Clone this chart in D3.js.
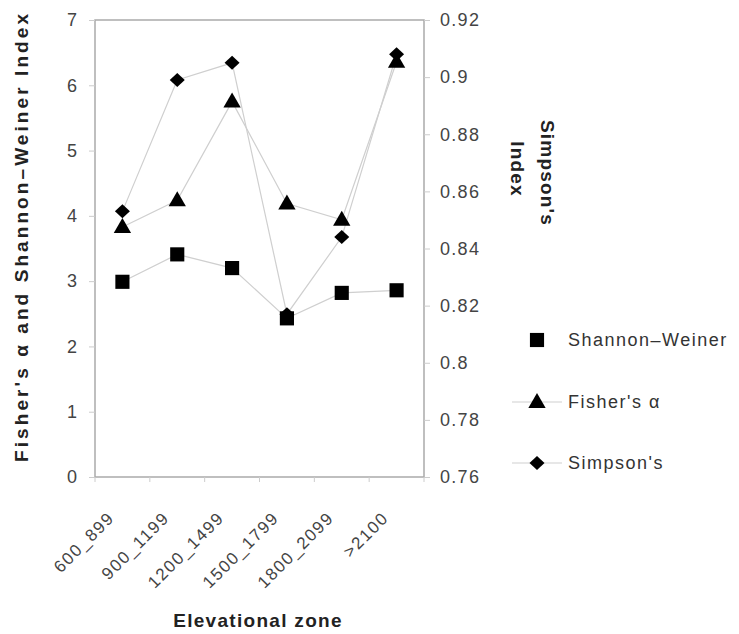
<!DOCTYPE html>
<html><head><meta charset="utf-8">
<script src="https://cdn.jsdelivr.net/npm/d3@7"></script>
<style>body{margin:0;background:#fff}svg{display:block}</style>
</head><body>
<svg id="c" width="739" height="634"></svg>
<script>
const zones = ["600_899","900_1199","1200_1499","1500_1799","1800_2099",">2100"];
const shannon = [2.99, 3.41, 3.20, 2.43, 2.82, 2.86];
const fisher  = [3.83, 4.24, 5.75, 4.19, 3.94, 6.36];
const simpson = [0.853, 0.899, 0.905, 0.817, 0.844, 0.908];
const leftTicks = [0,1,2,3,4,5,6,7];
const rightTicks = [0.76,0.78,0.8,0.82,0.84,0.86,0.88,0.9,0.92];

const svg = d3.select("#c");
const L = 95, R = 424, T = 20, B = 477;
const font = "Liberation Sans, Arial, sans-serif";
const x = d3.scaleBand().domain(zones).range([L, R]).padding(0);
const yL = d3.scaleLinear().domain([0,7]).range([B, T]);
const yR = d3.scaleLinear().domain([0.76,0.92]).range([B, T]);

svg.append("rect").attr("x",L).attr("y",T).attr("width",R-L).attr("height",B-T)
  .attr("fill","#fff").attr("stroke","#aaa").attr("stroke-width",1.5);

const ax = svg.append("g").attr("transform",`translate(${L},0)`)
  .call(d3.axisLeft(yL).tickValues(leftTicks).tickSize(6).tickPadding(12).tickFormat(d3.format("d")));
ax.select(".domain").remove();
ax.selectAll("line").attr("stroke","#ccc");
ax.selectAll("text").attr("font-family",font).attr("font-size",18).attr("fill","#444");

const ar = svg.append("g").attr("transform",`translate(${R},0)`)
  .call(d3.axisRight(yR).tickValues(rightTicks).tickSize(6).tickPadding(10).tickFormat(d => String(+d.toFixed(2))));
ar.select(".domain").remove();
ar.selectAll("line").attr("stroke","#ccc");
ar.selectAll("text").attr("font-family",font).attr("font-size",18).attr("fill","#444").attr("letter-spacing",1.3);

const bnd = zones.map(z => x(z)).concat([R]);
svg.append("g").selectAll("line").data(bnd).join("line")
  .attr("x1",d=>d).attr("x2",d=>d).attr("y1",B).attr("y2",B+5).attr("stroke","#ccc");

svg.append("g").selectAll("text").data(zones).join("text")
  .attr("transform", d => `translate(${x(d)+x.bandwidth()/2-7},${B+42}) rotate(-45)`)
  .attr("text-anchor","end").attr("font-family",font).attr("font-size",17)
  .attr("letter-spacing",1.6).attr("fill","#444").text(d=>d);

const cx = d => x(d) + x.bandwidth()/2;
const lineL = d3.line().x((d,i)=>cx(zones[i])).y(d=>yL(d));
const lineR = d3.line().x((d,i)=>cx(zones[i])).y(d=>yR(d));
const lc = "#cfcfcf";
svg.append("path").attr("d",lineL(shannon)).attr("fill","none").attr("stroke",lc).attr("stroke-width",1.2);
svg.append("path").attr("d",lineL(fisher)).attr("fill","none").attr("stroke",lc).attr("stroke-width",1.2);
svg.append("path").attr("d",lineR(simpson)).attr("fill","none").attr("stroke",lc).attr("stroke-width",1.2);

const sq = d3.symbol().type(d3.symbolSquare).size(200);
const tri = d3.symbol().type(d3.symbolTriangle).size(130);
const dia = "M0,-7L7.5,0L0,7L-7.5,0Z";

svg.append("g").selectAll("path").data(simpson).join("path")
  .attr("transform",(d,i)=>`translate(${cx(zones[i])},${yR(d)})`).attr("d",dia).attr("fill","#000");
svg.append("g").selectAll("path").data(shannon).join("path")
  .attr("transform",(d,i)=>`translate(${cx(zones[i])},${yL(d)})`).attr("d",sq).attr("fill","#000");
svg.append("g").selectAll("path").data(fisher).join("path")
  .attr("transform",(d,i)=>`translate(${cx(zones[i])},${yL(d)+1})`).attr("d",tri).attr("fill","#000");

svg.append("text").attr("transform","translate(28,238) rotate(-90)")
  .attr("text-anchor","middle").attr("font-family",font).attr("font-size",19).attr("font-weight","bold")
  .attr("fill","#222").attr("textLength",448).attr("lengthAdjust","spacing")
  .text("Fisher's \u03b1 and Shannon\u2013Weiner Index");
svg.append("text").attr("transform","translate(541,173) rotate(90)")
  .attr("text-anchor","middle").attr("font-family",font).attr("font-size",19).attr("font-weight","bold")
  .attr("fill","#222").attr("letter-spacing",1.2).text("Simpson's");
svg.append("text").attr("transform","translate(511,169) rotate(90)")
  .attr("text-anchor","middle").attr("font-family",font).attr("font-size",19).attr("font-weight","bold")
  .attr("fill","#222").attr("letter-spacing",1.2).text("Index");
svg.append("text").attr("x",258).attr("y",627)
  .attr("text-anchor","middle").attr("font-family",font).attr("font-size",19).attr("font-weight","bold")
  .attr("fill","#222").attr("letter-spacing",1.3).text("Elevational zone");

const leg = [
  {name:"Shannon\u2013Weiner", sym:"sq", line:false, y:340},
  {name:"Fisher's \u03b1", sym:"tri", line:true, y:402},
  {name:"Simpson's", sym:"dia", line:true, y:463}
];
const lg = svg.append("g");
leg.forEach(l => {
  if (l.line) lg.append("line").attr("x1",512).attr("x2",562).attr("y1",l.y).attr("y2",l.y).attr("stroke",lc).attr("stroke-width",1.2);
  const p = lg.append("path").attr("fill","#000");
  if (l.sym==="sq") p.attr("d",sq).attr("transform",`translate(537,${l.y})`);
  if (l.sym==="tri") p.attr("d",tri).attr("transform",`translate(537,${l.y+1})`);
  if (l.sym==="dia") p.attr("d",dia).attr("transform",`translate(537,${l.y})`);
  lg.append("text").attr("x",568).attr("y",l.y+6).attr("font-family",font).attr("font-size",18)
    .attr("letter-spacing",1.5).attr("fill","#333").text(l.name);
});
</script>
</body></html>
